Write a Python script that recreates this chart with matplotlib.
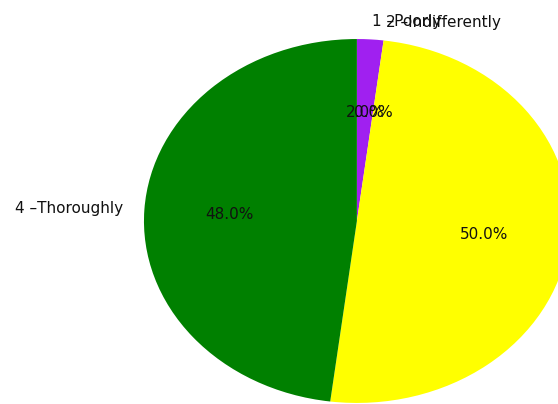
import matplotlib.pyplot as plt

# survey answers, clockwise from the top
labels = ['1 \u2013Poorly', '2 \u2013Indifferently', '3 \u2013Adequately', '4 \u2013Thoroughly']
counts = [1, 0, 25, 24]
colors = ['#a020f0', '#ff7f0e', '#ffff00', '#008000']

fig = plt.figure(figsize=(5.58, 4.04), dpi=100)
# axes runs past the canvas so the pie gets cropped like the screenshot
ax = fig.add_axes([0.1626, -0.110, 0.954, 1.126])

ax.pie(counts, labels=labels, colors=colors, autopct='%1.1f%%',
       startangle=90, counterclock=False,
       textprops={'fontsize': 11, 'color': '#111111'})
ax.set_aspect('auto')
ax.set_xlim(-1.25, 1.25)
ax.set_ylim(-1.25, 1.25)

fig.savefig('out.png', dpi=100)
